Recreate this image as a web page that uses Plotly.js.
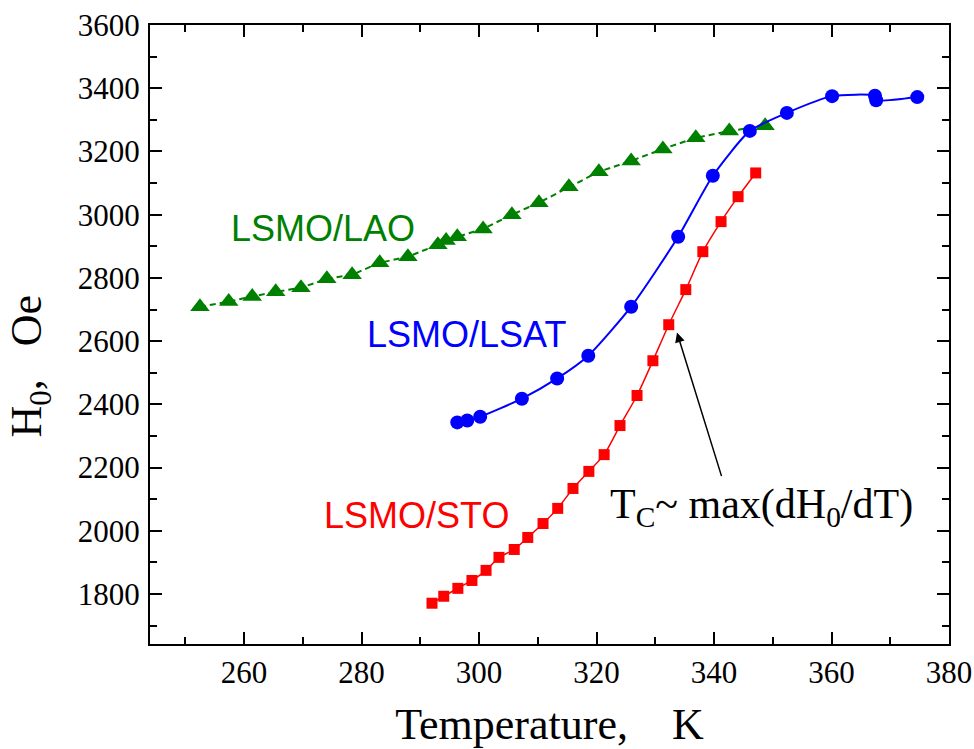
<!DOCTYPE html>
<html>
<head>
<meta charset="utf-8">
<script src="https://cdn.plot.ly/plotly-3.0.1.min.js"></script>
<style>html,body{margin:0;padding:0;background:#fff;}#chart{width:974px;height:749px;}</style>
</head>
<body>
<div id="chart"></div>
<script>
// LSMO/LAO (green triangles)
const laoT = [252.5, 257.4, 261.4, 265.4, 269.7, 274.1, 278.4, 283.1, 287.9, 293.0, 294.4, 296.3, 300.7, 305.6, 310.2, 315.3, 320.4, 325.9, 331.3, 336.9, 342.6, 348.7];
const laoH = [2709, 2725, 2741, 2756, 2769, 2797, 2810, 2848, 2867, 2905, 2918, 2930, 2955, 3000, 3038, 3088, 3136, 3170, 3208, 3243, 3265, 3281];
// LSMO/LSAT (blue circles)
const lsatT = [296.3, 298.0, 300.2, 307.3, 313.3, 318.6, 325.9, 333.9, 339.8, 346.1, 352.4, 360.1, 367.4, 367.6, 374.6];
const lsatH = [2343, 2349, 2361, 2418, 2482, 2554, 2709, 2930, 3123, 3265, 3322, 3375, 3376, 3362, 3372];
// LSMO/STO (red squares)
const stoT = [292.0, 294.0, 296.4, 298.8, 301.2, 303.4, 306.0, 308.3, 310.9, 313.4, 316.0, 318.7, 321.3, 324.0, 326.9, 329.6, 332.3, 335.2, 338.1, 341.2, 344.1, 347.1];
const stoH = [1771, 1793, 1818, 1843, 1875, 1916, 1941, 1979, 2023, 2071, 2134, 2188, 2241, 2333, 2428, 2538, 2652, 2763, 2883, 2978, 3057, 3132];

const xTicks = [260, 280, 300, 320, 340, 360, 380];
const yTicks = [1800, 2000, 2200, 2400, 2600, 2800, 3000, 3200, 3400, 3600];

const serif = 'Liberation Serif, Times New Roman, serif';
const sans = 'Liberation Sans, Arial, sans-serif';
const nb = '\u00A0';

const traces = [
  {x: laoT, y: laoH, mode: 'lines+markers', name: 'LSMO/LAO',
   line: {color: '#008000', width: 2, dash: '6px,4px'},
   marker: {symbol: 'triangle-up', size: 17, color: '#008000'}},
  {x: lsatT, y: lsatH, mode: 'lines+markers', name: 'LSMO/LSAT',
   line: {color: '#0000FF', width: 2, shape: 'spline', smoothing: 0.6},
   marker: {symbol: 'circle', size: 14, color: '#0000FF'}},
  {x: stoT, y: stoH, mode: 'lines+markers', name: 'LSMO/STO',
   line: {color: '#FF0000', width: 1.5, shape: 'spline', smoothing: 0.6},
   marker: {symbol: 'square', size: 11, color: '#FF0000'}}
];

const axisCommon = {
  showgrid: false, zeroline: false,
  showline: true, linecolor: '#000', linewidth: 2, mirror: 'allticks',
  ticks: 'inside', ticklen: 12, tickwidth: 2, tickcolor: '#000',
  tickfont: {family: serif, size: 31, color: '#000'},
  minor: {ticks: 'inside', ticklen: 7, tickwidth: 2, tickcolor: '#000'}
};

const layout = {
  width: 974, height: 749,
  margin: {l: 150, r: 25, t: 25, b: 105},
  paper_bgcolor: '#fff', plot_bgcolor: '#fff',
  showlegend: false,
  xaxis: Object.assign({}, axisCommon, {
    range: [244, 380], tickvals: xTicks, ticktext: xTicks.map(String),
    minor: Object.assign({}, axisCommon.minor, {dtick: 10, tick0: 250}),
    title: {text: 'Temperature,' + nb + nb + nb + nb + 'K', font: {family: serif, size: 44, color: '#000'}, standoff: 22}
  }),
  yaxis: Object.assign({}, axisCommon, {
    range: [1642, 3600], tickvals: yTicks, ticktext: yTicks.map(String),
    minor: Object.assign({}, axisCommon.minor, {dtick: 100, tick0: 1700}),
    ticklabelstandoff: 2
  }),
  annotations: [
    {x: -0.151, y: 0.449, xref: 'paper', yref: 'paper', textangle: -90,
     text: 'H<sub>0</sub>,' + nb + nb + nb + 'Oe', showarrow: false,
     font: {family: serif, size: 44, color: '#000'}, xanchor: 'center', yanchor: 'middle'},
    {x: 273.4, y: 2955, xref: 'x', yref: 'y', text: 'LSMO/LAO', showarrow: false,
     font: {family: sans, size: 36, color: '#008000'}, xanchor: 'center', yanchor: 'middle'},
    {x: 297.8, y: 2621, xref: 'x', yref: 'y', text: 'LSMO/LSAT', showarrow: false,
     font: {family: sans, size: 36, color: '#0000FF'}, xanchor: 'center', yanchor: 'middle'},
    {x: 289.3, y: 2049, xref: 'x', yref: 'y', text: 'LSMO/STO', showarrow: false,
     font: {family: sans, size: 36, color: '#FF0000'}, xanchor: 'center', yanchor: 'middle'},
    {x: 333.7, y: 2627, xref: 'x', yref: 'y', text: '', showarrow: true,
     ax: 45, ay: 145, arrowhead: 2, arrowsize: 1.3, arrowwidth: 1.5, arrowcolor: '#000'},
    {x: 322.0, y: 2074, xref: 'x', yref: 'y', text: 'T<sub>C</sub>~ max(dH<sub>0</sub>/dT)', showarrow: false,
     font: {family: serif, size: 42, color: '#000'}, xanchor: 'left', yanchor: 'middle'}
  ]
};

Plotly.newPlot('chart', traces, layout, {displayModeBar: false, staticPlot: true});
</script>
</body>
</html>
